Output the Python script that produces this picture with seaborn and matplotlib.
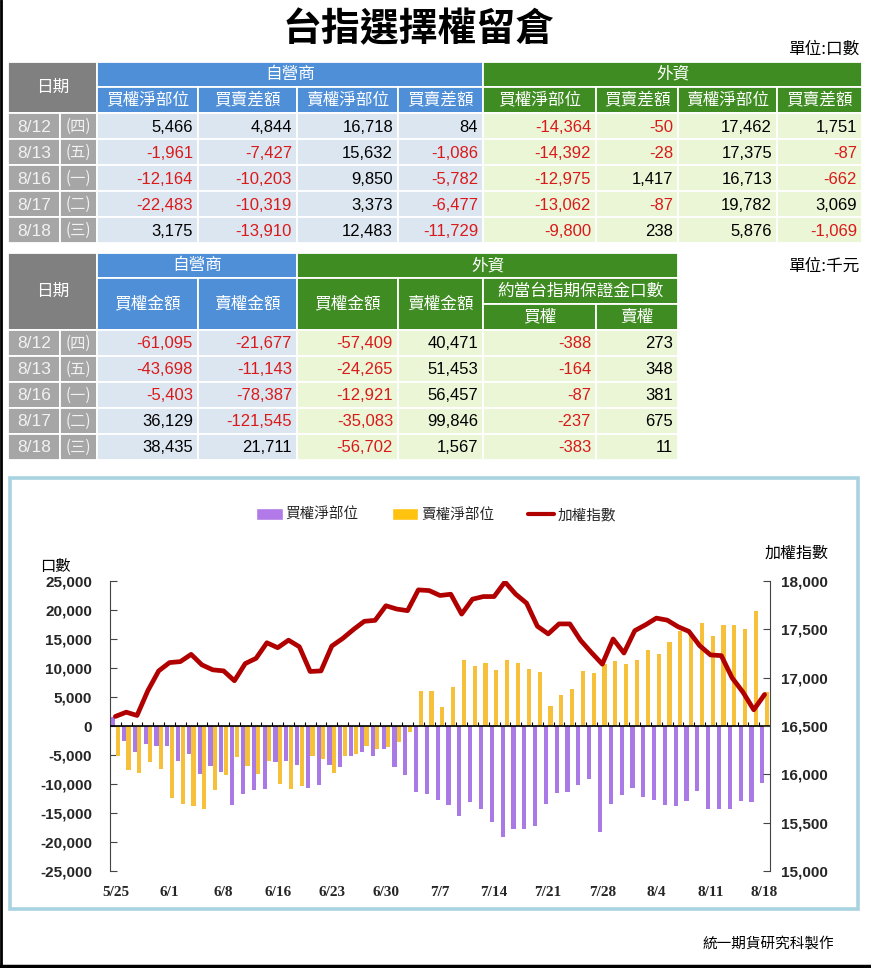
import numpy as np
import pandas as pd
import matplotlib
matplotlib.use("Agg")
import matplotlib.pyplot as plt
import seaborn as sns
from matplotlib.patches import Rectangle, Patch
from matplotlib.lines import Line2D

# ---- table data (last five sessions) ----
dates5 = ["8/12", "8/13", "8/16", "8/17", "8/18"]
weekdays = ["(四)", "(五)", "(一)", "(二)", "(三)"]

dealer_call_oi = [5466, -1961, -12164, -22483, 3175]
dealer_call_chg = [4844, -7427, -10203, -10319, -13910]
dealer_put_oi = [16718, 15632, 9850, 3373, 12483]
dealer_put_chg = [84, -1086, -5782, -6477, -11729]
foreign_call_oi = [-14364, -14392, -12975, -13062, -9800]
foreign_call_chg = [-50, -28, 1417, -87, 238]
foreign_put_oi = [17462, 17375, 16713, 19782, 5876]
foreign_put_chg = [1751, -87, -662, 3069, -1069]

dealer_call_amt = [-61095, -43698, -5403, 36129, 38435]
dealer_put_amt = [-21677, -11143, -78387, -121545, 21711]
foreign_call_amt = [-57409, -24265, -12921, -35083, -56702]
foreign_put_amt = [40471, 51453, 56457, 99846, 1567]
equiv_call = [-388, -164, -87, -237, -383]
equiv_put = [273, 348, 381, 675, 11]

# ---- chart data ----
dates = ["5/25", "5/26", "5/27", "5/28", "5/31",
         "6/1", "6/2", "6/3", "6/4", "6/7", "6/8", "6/9", "6/10", "6/11", "6/15",
         "6/16", "6/17", "6/18", "6/21", "6/22", "6/23", "6/24", "6/25", "6/28", "6/29",
         "6/30", "7/1", "7/2", "7/5", "7/6", "7/7", "7/8", "7/9", "7/12", "7/13",
         "7/14", "7/15", "7/16", "7/19", "7/20", "7/21", "7/22", "7/23", "7/26", "7/27",
         "7/28", "7/29", "7/30", "8/2", "8/3", "8/4", "8/5", "8/6", "8/9", "8/10",
         "8/11", "8/12", "8/13", "8/16", "8/17", "8/18"]

call_net = [1550, -2650, -4480, -3160, -3510, -3510, -6100, -4770, -8220, -6900,
            -7930, -13690, -11670, -11100, -10930, -6240, -5950, -6810, -10700, -10200,
            -6640, -6990, -5090, -4510, -5090, -3940, -6990, -8370, -11300, -11700,
            -12700, -13690, -15470, -13170, -14380, -16560, -19150, -17830, -17710, -17310,
            -13400, -11500, -11330, -10120, -9090, -18290, -13510, -11960, -10640, -12250,
            -12820, -13690, -13860, -13000, -11270, -14380, -14364, -14392, -12975, -13062,
            -9800]

put_net = [-5100, -7650, -8050, -6210, -7480, -12360, -13400, -13800, -14380, -11100,
           -8510, -5400, -6900, -8340, -6100, -10000, -10900, -10430, -5200, -5660,
           -8070, -5090, -4830, -3390, -3910, -3650, -2790, -1060, 5950, 5950,
           3190, 6730, 11440, 10410, 10930, 9720, 11440, 10930, 9890, 9370,
           3390, 5400, 6440, 9550, 9200, 10750, 11210, 10640, 11440, 13050,
           12480, 14550, 16450, 15900, 17800, 15600, 17462, 17375, 16713, 19782,
           5876]

taiex = [16599, 16643, 16609, 16866, 17070, 17156, 17166, 17241, 17132, 17081,
         17070, 16968, 17146, 17200, 17361, 17310, 17388, 17320, 17064, 17070,
         17327, 17405, 17498, 17583, 17593, 17744, 17710, 17693, 17908, 17901,
         17850, 17863, 17658, 17812, 17839, 17839, 17990, 17863, 17771, 17532,
         17453, 17556, 17556, 17385, 17259, 17140, 17400, 17255, 17486, 17547,
         17616, 17595, 17527, 17479, 17331, 17235, 17228, 16998, 16850, 16668,
         16826]

series_names = ["買權淨部位", "賣權淨部位", "加權指數"]

# ---- styling ----
sns.set_style("white")
CJK = ["Noto Sans CJK TC", "DejaVu Sans"]
NUM = ["Liberation Sans", "DejaVu Sans"]
plt.rcParams["font.family"] = CJK
plt.rcParams["axes.unicode_minus"] = False

GREY_HEAD = "#808080"
GREY_CELL = "#a6a6a6"
BLUE = "#4f8fd8"
GREEN = "#3f8c22"
BLUE_BG = "#dce6f1"
GREEN_BG = "#ebf6d6"
RED = "#d91a1a"
PURPLE = "#a97ae6"
YELLOW = "#f6c03a"
LINE_RED = "#b00000"

fig = plt.figure(figsize=(8.71, 9.68), dpi=100)
lay = fig.add_axes([0, 0, 1, 1], zorder=0)
lay.set_xlim(0, 871)
lay.set_ylim(968, 0)
lay.axis("off")


def box(x0, y0, x1, y1, fc):
    lay.add_patch(Rectangle((x0, y0), x1 - x0, y1 - y0, facecolor=fc,
                            edgecolor="white", linewidth=1.3))


def label(x, y, s, color="white", size=12, ha="center", fam=CJK, weight="normal"):
    lay.text(x, y, s, color=color, fontsize=size, ha=ha, va="center",
             family=fam, weight=weight)


def number(x1, y0, y1, v):
    label(x1 - 5, (y0 + y1) / 2 + 1, f"{v:,}", color=RED if v < 0 else "black",
          size=12, ha="right", fam=NUM)


def date_cells(X, y0, y1, r):
    box(X[0], y0, X[1], y1, GREY_CELL)
    label((X[0] + X[1]) / 2, (y0 + y1) / 2 + 1, dates5[r], color="#f2f2f2", size=12.5, fam=NUM)
    box(X[1], y0, X[2], y1, GREY_CELL)
    label((X[1] + X[2]) / 2, (y0 + y1) / 2, weekdays[r], color="#f2f2f2", size=11)


# title and notes
label(419, 30, "台指選擇權留倉", color="black", size=28, weight="bold")
label(859, 49, "單位:口數", color="black", size=12, ha="right")
label(859, 266, "單位:千元", color="black", size=12, ha="right")
label(834, 944, "統一期貨研究科製作", color="black", size=10.5, ha="right")

# ---- table 1 ----
X1 = [8, 60, 97, 198, 297, 398, 483, 596, 678, 777, 862]
Y1 = [62, 87, 113, 139, 165, 191, 217, 243]
box(X1[0], Y1[0], X1[2], Y1[2], GREY_HEAD)
label((X1[0] + X1[2]) / 2, (Y1[0] + Y1[2]) / 2, "日期")
box(X1[2], Y1[0], X1[6], Y1[1], BLUE)
label((X1[2] + X1[6]) / 2, (Y1[0] + Y1[1]) / 2, "自營商")
box(X1[6], Y1[0], X1[10], Y1[1], GREEN)
label((X1[6] + X1[10]) / 2, (Y1[0] + Y1[1]) / 2, "外資")
sub1 = ["買權淨部位", "買賣差額", "賣權淨部位", "買賣差額"] * 2
for j, s in enumerate(sub1):
    box(X1[2 + j], Y1[1], X1[3 + j], Y1[2], BLUE if j < 4 else GREEN)
    label((X1[2 + j] + X1[3 + j]) / 2, (Y1[1] + Y1[2]) / 2, s)
cols1 = [dealer_call_oi, dealer_call_chg, dealer_put_oi, dealer_put_chg,
         foreign_call_oi, foreign_call_chg, foreign_put_oi, foreign_put_chg]
for r in range(5):
    y0, y1 = Y1[2 + r], Y1[3 + r]
    date_cells(X1, y0, y1, r)
    for j, col in enumerate(cols1):
        box(X1[2 + j], y0, X1[3 + j], y1, BLUE_BG if j < 4 else GREEN_BG)
        number(X1[3 + j], y0, y1, col[r])

# ---- table 2 ----
X2 = [8, 60, 97, 198, 297, 398, 483, 596, 678]
Y2 = [253, 278, 304, 330, 356, 382, 408, 434, 460]
box(X2[0], Y2[0], X2[2], Y2[3], GREY_HEAD)
label((X2[0] + X2[2]) / 2, (Y2[0] + Y2[3]) / 2, "日期")
box(X2[2], Y2[0], X2[4], Y2[1], BLUE)
label((X2[2] + X2[4]) / 2, (Y2[0] + Y2[1]) / 2, "自營商")
box(X2[4], Y2[0], X2[8], Y2[1], GREEN)
label((X2[4] + X2[8]) / 2, (Y2[0] + Y2[1]) / 2, "外資")
for j, s in enumerate(["買權金額", "賣權金額", "買權金額", "賣權金額"]):
    box(X2[2 + j], Y2[1], X2[3 + j], Y2[3], BLUE if j < 2 else GREEN)
    label((X2[2 + j] + X2[3 + j]) / 2, (Y2[1] + Y2[3]) / 2, s)
box(X2[6], Y2[1], X2[8], Y2[2], GREEN)
label((X2[6] + X2[8]) / 2, (Y2[1] + Y2[2]) / 2, "約當台指期保證金口數")
for j, s in enumerate(["買權", "賣權"]):
    box(X2[6 + j], Y2[2], X2[7 + j], Y2[3], GREEN)
    label((X2[6 + j] + X2[7 + j]) / 2, (Y2[2] + Y2[3]) / 2, s)
cols2 = [dealer_call_amt, dealer_put_amt, foreign_call_amt, foreign_put_amt,
         equiv_call, equiv_put]
for r in range(5):
    y0, y1 = Y2[3 + r], Y2[4 + r]
    date_cells(X2, y0, y1, r)
    for j, col in enumerate(cols2):
        box(X2[2 + j], y0, X2[3 + j], y1, BLUE_BG if j < 2 else GREEN_BG)
        number(X2[3 + j], y0, y1, col[r])

# ---- chart frame ----
lay.add_patch(Rectangle((10, 478), 848, 431, facecolor="white",
                        edgecolor="#a8d3e0", linewidth=2.6))
lay.plot([1, 1], [0, 968], color="black", lw=2)
lay.plot([0, 871], [966, 966], color="black", lw=2.5)
label(40, 566, "口數", color="black", size=11, ha="left")
label(797, 553, "加權指數", color="black", size=11.5)

# ---- chart ----
ax = fig.add_axes([110 / 871, 1 - 871 / 968, 660 / 871, 290 / 968], zorder=2)
ax.patch.set_alpha(0)
df = pd.DataFrame({
    "date": dates * 2,
    "series": [series_names[0]] * len(dates) + [series_names[1]] * len(dates),
    "value": call_net + put_net,
})
sns.barplot(data=df, x="date", y="value", hue="series", order=dates,
            hue_order=series_names[:2], palette=[PURPLE, YELLOW],
            width=0.84, gap=0.08, errorbar=None, legend=False, ax=ax,
            linewidth=0, saturation=1, zorder=2)
ax.set_ylim(-25000, 25000)
ax.set_yticks(np.arange(-25000, 25001, 5000))
ax.set_yticklabels([f"{v:,}" for v in np.arange(-25000, 25001, 5000)],
                   family=NUM, weight="bold", fontsize=11)
ax.set_xticks(np.arange(0, len(dates), 5))
ax.set_xticklabels(dates[::5], family=["Liberation Serif", "DejaVu Serif"],
                   weight="bold", fontsize=11)
ax.tick_params(axis="x", length=0, pad=11)
ax.tick_params(axis="y", direction="in", length=5, color="#444444", pad=13)
ax.set_xlabel("")
ax.set_ylabel("")
ax.axhline(0, color="black", lw=1.2, zorder=3)
ax.vlines(np.arange(0.5, len(dates) - 1, 1), 0, 750, color="black", lw=0.8, zorder=3)
for side in ["top", "right", "bottom"]:
    ax.spines[side].set_visible(False)
ax.spines["left"].set_color("#444444")

ax2 = ax.twinx()
sns.lineplot(x=np.arange(len(dates)), y=taiex, ax=ax2, color=LINE_RED, lw=3.4, zorder=4)
ax2.set_ylim(15000, 18000)
ax2.set_yticks(np.arange(15000, 18001, 500))
ax2.set_yticklabels([f"{v:,}" for v in np.arange(15000, 18001, 500)],
                    family=NUM, weight="bold", fontsize=11)
ax2.tick_params(axis="y", direction="in", length=5, color="#444444", pad=8)
for side in ["top", "left", "bottom"]:
    ax2.spines[side].set_visible(False)
ax2.spines["right"].set_color("#444444")
ax.set_xlim(-0.5, len(dates) - 0.5)

handles = [Patch(facecolor="#b27ae8", label=series_names[0]),
           Patch(facecolor="#ffc20e", label=series_names[1]),
           Line2D([0], [0], color=LINE_RED, lw=3, label=series_names[2])]
fig.legend(handles=handles, loc="center", bbox_to_anchor=(436 / 871, 1 - 515 / 968),
           ncol=3, frameon=False, fontsize=10.5, handlelength=1.8, handleheight=0.8,
           handletextpad=0.2, columnspacing=2.3)

fig.savefig("out.png", dpi=100)
